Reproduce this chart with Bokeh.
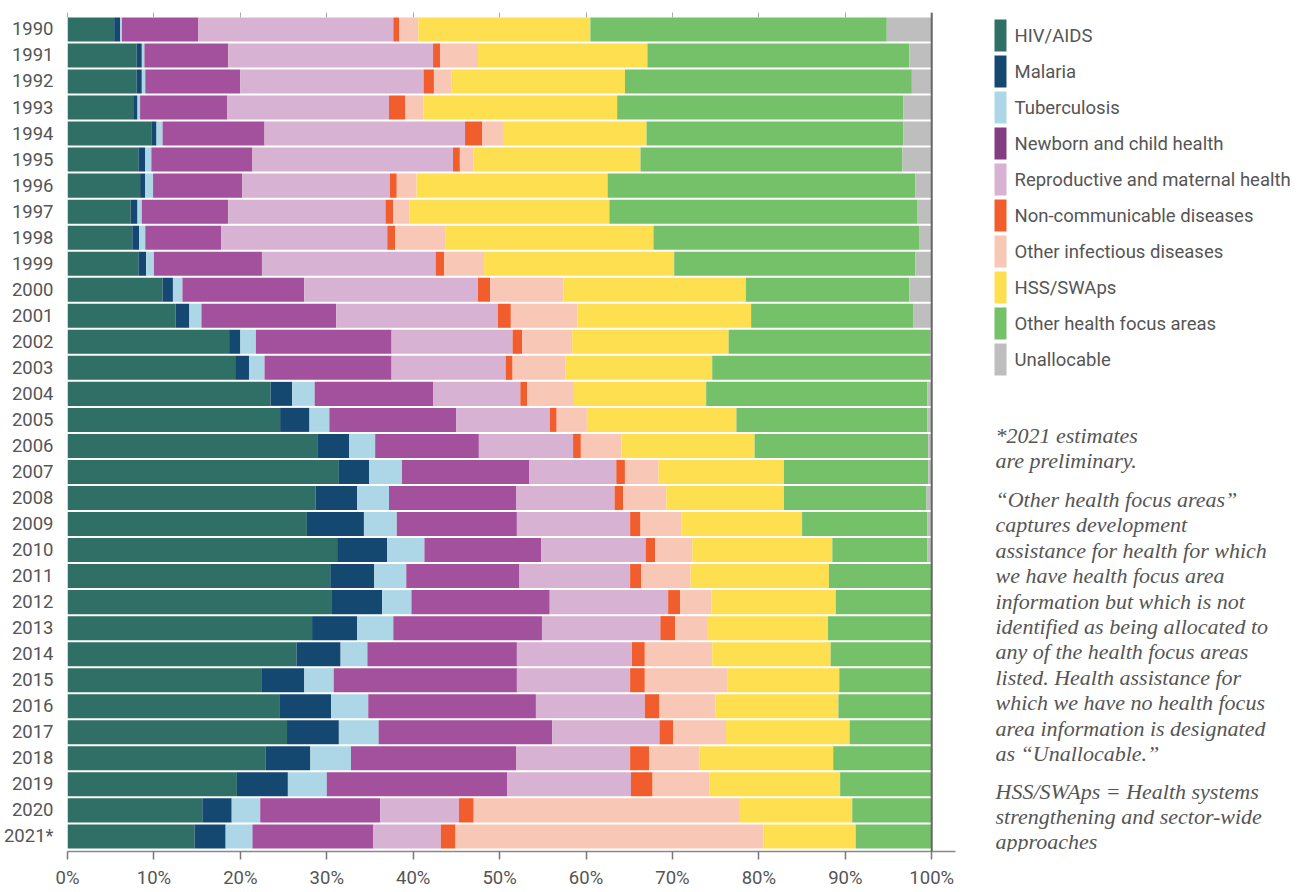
from bokeh.plotting import figure
from bokeh.models import ColumnDataSource, Range1d, FixedTicker, LinearAxis, Span
from bokeh.layouts import row
from bokeh.embed import file_html
from bokeh.resources import INLINE
from bokeh.core.properties import value

# ---------------- data (share of DAH, %) ----------------
years = ["1990", "1991", "1992", "1993", "1994", "1995", "1996", "1997", "1998", "1999",
         "2000", "2001", "2002", "2003", "2004", "2005", "2006", "2007", "2008", "2009",
         "2010", "2011", "2012", "2013", "2014", "2015", "2016", "2017", "2018", "2019",
         "2020", "2021*"]

hiv = [5.4, 8.0, 8.0, 7.6, 9.7, 8.2, 8.4, 7.3, 7.5, 8.2, 11.0, 12.5, 18.7, 19.4, 23.5, 24.6,
       28.9, 31.4, 28.7, 27.7, 31.2, 30.4, 30.6, 28.3, 26.5, 22.5, 24.5, 25.4, 22.9, 19.6, 15.6, 14.7]
malaria = [0.7, 0.6, 0.6, 0.5, 0.6, 0.8, 0.6, 0.8, 0.8, 0.9, 1.2, 1.6, 1.3, 1.6, 2.5, 3.4,
           3.7, 3.5, 4.8, 6.6, 5.8, 5.1, 5.8, 5.2, 5.1, 4.9, 6.0, 6.0, 5.2, 5.9, 3.4, 3.6]
tuberculosis = [0.2, 0.3, 0.4, 0.3, 0.7, 0.7, 0.9, 0.5, 0.7, 0.9, 1.1, 1.4, 1.8, 1.8, 2.6, 2.3,
                3.0, 3.8, 3.7, 3.8, 4.3, 3.7, 3.4, 4.2, 3.1, 3.4, 4.3, 4.6, 4.7, 4.5, 3.3, 3.1]
newborn = [8.8, 9.7, 11.0, 10.1, 11.8, 11.7, 10.3, 10.0, 8.8, 12.5, 14.1, 15.6, 15.7, 14.7, 13.7, 14.7,
           12.0, 14.7, 14.7, 13.9, 13.5, 13.1, 16.0, 17.2, 17.3, 21.2, 19.4, 20.1, 19.1, 20.9, 13.9, 14.0]
reproductive = [22.6, 23.7, 21.2, 18.7, 23.2, 23.2, 17.1, 18.2, 19.2, 20.1, 20.1, 18.7, 14.0, 13.2, 10.1, 10.8,
                10.9, 10.1, 11.4, 13.1, 12.1, 12.8, 13.7, 13.7, 13.3, 13.1, 12.6, 12.4, 13.2, 14.3, 9.1, 7.8]
ncd = [0.7, 0.8, 1.2, 1.9, 2.0, 0.8, 0.8, 0.9, 0.9, 1.0, 1.4, 1.5, 1.1, 0.8, 0.8, 0.8,
       0.9, 1.0, 1.0, 1.2, 1.1, 1.3, 1.4, 1.7, 1.5, 1.7, 1.7, 1.6, 2.2, 2.5, 1.7, 1.7]
other_infectious = [2.2, 4.4, 2.0, 2.1, 2.5, 1.6, 2.3, 1.9, 5.8, 4.6, 8.5, 7.7, 5.8, 6.1, 5.4, 3.5,
                    4.7, 3.9, 5.0, 4.7, 4.3, 5.7, 3.6, 3.8, 7.8, 9.6, 6.5, 6.1, 5.8, 6.6, 30.7, 35.6]
hss_swaps = [19.9, 19.6, 20.1, 22.4, 16.5, 19.3, 22.1, 23.1, 24.1, 22.0, 21.1, 20.1, 18.1, 17.0, 15.3, 17.3,
             15.4, 14.5, 13.6, 14.0, 16.2, 16.0, 14.4, 13.9, 13.7, 12.9, 14.2, 14.3, 15.5, 15.1, 13.1, 10.7]
other_focus = [34.3, 30.3, 33.2, 33.1, 29.7, 30.3, 35.6, 35.6, 30.8, 27.9, 18.9, 18.8, 23.3, 25.2, 25.6, 22.1,
               20.1, 16.7, 16.5, 14.5, 11.0, 11.9, 11.1, 12.0, 11.7, 10.7, 10.8, 9.5, 11.4, 10.6, 9.2, 8.8]
unallocable = [5.2, 2.6, 2.3, 3.3, 3.3, 3.4, 1.9, 1.7, 1.4, 1.9, 2.6, 2.1, 0.2, 0.2, 0.5, 0.5,
               0.4, 0.4, 0.6, 0.5, 0.5, 0.0, 0.0, 0.0, 0.0, 0.0, 0.0, 0.0, 0.0, 0.0, 0.0, 0.0]

categories = ["HIV/AIDS", "Malaria", "Tuberculosis", "Newborn and child health",
              "Reproductive and maternal health", "Non-communicable diseases",
              "Other infectious diseases", "HSS/SWAps", "Other health focus areas", "Unallocable"]
keys = ["hiv", "malaria", "tb", "newborn", "repro", "ncd", "oid", "hss", "other", "unalloc"]
series = [hiv, malaria, tuberculosis, newborn, reproductive, ncd, other_infectious,
          hss_swaps, other_focus, unallocable]

x_ticks = [0, 10, 20, 30, 40, 50, 60, 70, 80, 90, 100]
x_tick_labels = ["0%", "10%", "20%", "30%", "40%", "50%", "60%", "70%", "80%", "90%", "100%"]

notes_1 = ["*2021 estimates", "are preliminary."]
notes_2 = ["\u201cOther health focus areas\u201d", "captures development",
           "assistance for health for which", "we have health focus area",
           "information but which is not", "identified as being allocated to",
           "any of the health focus areas", "listed. Health assistance for",
           "which we have no health focus", "area information is designated",
           "as \u201cUnallocable.\u201d"]
notes_3 = ["HSS/SWAps = Health systems", "strengthening and sector-wide", "approaches"]

# ---------------- styles ----------------
colors = ["#306f66", "#154870", "#add7e6", "#a3509d", "#d8b2d2", "#f15d2c",
          "#f9c7b5", "#fedf4f", "#75c16a", "#bebebf"]
legend_colors = ["#306f66", "#154870", "#add7e6", "#843c82", "#d8b2d2", "#f15d2c",
                 "#f9c7b5", "#fedf4f", "#75c16a", "#bebebf"]
SANS = "Roboto"
SERIF = "Liberation Serif"
TXT = "#555555"
FS = "18.5px"

n = len(years)
ypos = list(range(n))
data = {"y": ypos}
for k, s in zip(keys, series):
    data[k] = s
source = ColumnDataSource(data)

FH = 839
BT, BB = 12, 37
p = figure(frame_width=888, frame_height=FH, output_backend="svg", toolbar_location=None,
           x_range=Range1d(0, 102.75), y_range=Range1d(n - 1 + 0.58, -0.65),
           x_axis_location=None, y_axis_location=None,
           min_border_left=64, min_border_right=13, min_border_top=BT, min_border_bottom=BB)
p.outline_line_color = None
p.grid.visible = False

p.hbar_stack(keys, y="y", height=24 / 26, fill_color=colors, line_color=None, source=source)

p.add_layout(Span(location=100, dimension="height", line_color="#666666", line_width=2))

xaxis = LinearAxis(ticker=FixedTicker(ticks=x_ticks),
                   major_label_overrides={t: l for t, l in zip(x_ticks, x_tick_labels)})
xaxis.axis_line_color = "#888888"
xaxis.axis_line_width = 1.5
xaxis.major_tick_in = 0
xaxis.major_tick_out = 8
xaxis.major_tick_line_color = "#777777"
xaxis.major_tick_line_width = 1.5
xaxis.minor_tick_line_color = None
xaxis.major_label_standoff = 7
xaxis.major_label_text_font = SANS
xaxis.major_label_text_font_size = FS
xaxis.major_label_text_color = TXT
p.add_layout(xaxis, "below")

top_axis = LinearAxis(ticker=FixedTicker(ticks=x_ticks),
                      major_label_overrides={t: "" for t in x_ticks})
top_axis.axis_line_color = None
top_axis.major_tick_in = 5
top_axis.major_tick_out = 0
top_axis.major_tick_line_color = "#aaaaaa"
top_axis.minor_tick_line_color = None
top_axis.major_label_standoff = 0
top_axis.major_label_text_font_size = "1px"
top_axis.major_label_text_color = None
p.add_layout(top_axis, "above")

yaxis = LinearAxis(ticker=FixedTicker(ticks=ypos),
                   major_label_overrides={i: y for i, y in zip(ypos, years)})
yaxis.axis_line_color = None
yaxis.major_tick_line_color = None
yaxis.minor_tick_line_color = None
yaxis.major_tick_in = 0
yaxis.major_tick_out = 0
yaxis.major_label_standoff = 14
yaxis.major_label_text_font = SANS
yaxis.major_label_text_font_size = FS
yaxis.major_label_text_color = TXT
p.add_layout(yaxis, "left")

# ---------------- legend + notes panel (coordinates in px from the chart frame top) ----------------
W2 = 326
q = figure(frame_width=W2, frame_height=FH, output_backend="svg", toolbar_location=None,
           x_range=Range1d(0, W2), y_range=Range1d(FH, 0),
           x_axis_location=None, y_axis_location=None,
           min_border_left=0, min_border_right=0, min_border_top=BT, min_border_bottom=BB)
q.outline_line_color = None
q.grid.visible = False

idx = list(range(len(categories)))
sw_top = [7 + 36 * i for i in idx]
sw_bot = [39 + 36 * i for i in idx]
sw_mid = [23 + 36 * i for i in idx]
q.quad(left=26, right=38, top=sw_top, bottom=sw_bot, fill_color=legend_colors, line_color=None)
q.text(x=46, y=sw_mid, text=categories, text_baseline="middle", text_align="left",
       text_font=value(SANS), text_font_size=FS, text_color=TXT)

pitch = 25.4
for start, lines in [(423, notes_1), (487, notes_2), (778.5, notes_3)]:
    q.text(x=27, y=[start + pitch * k for k in range(len(lines))], text=lines,
           text_baseline="middle", text_align="left",
           text_font=value(SERIF), text_font_style="italic", text_font_size="22px",
           text_color=TXT)

layout = row(p, q)
open("out.html", "w").write(file_html(layout, INLINE))
